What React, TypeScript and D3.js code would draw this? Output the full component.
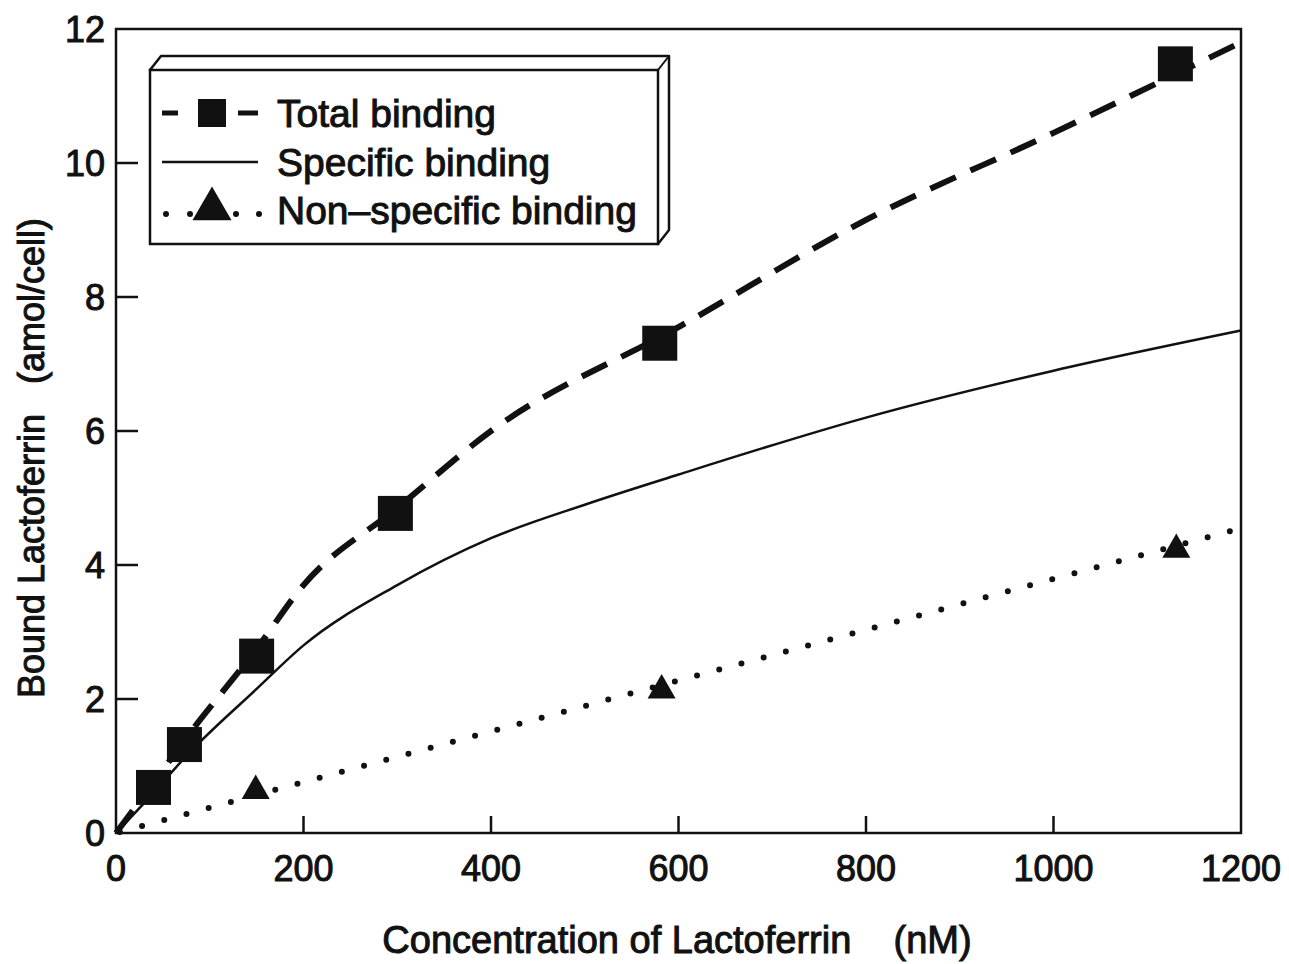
import * as d3 from 'd3';
import { useEffect, useRef } from 'react';

// measured points
const totalX = [40, 73, 150, 298, 580, 1130];
const totalY = [0.68, 1.32, 2.64, 4.77, 7.31, 11.48];
const nonSpecX = [149, 582, 1131];
const nonSpecY = [0.6, 2.1, 4.2];

// fitted curves
const totalFitX = [0, 40, 75, 150, 200, 300, 400, 600, 800, 1000, 1200];
const totalFitY = [0, 0.75, 1.42, 2.75, 3.7, 4.85, 6.0, 7.55, 9.15, 10.45, 11.8];
const specFitX = [0, 40, 75, 150, 200, 300, 400, 500, 600, 800, 1000, 1200];
const specFitY = [0, 0.6, 1.15, 2.15, 2.8, 3.7, 4.4, 4.9, 5.35, 6.2, 6.9, 7.5];
const nonSpecFitX = [0, 1200];
const nonSpecFitY = [0, 4.55];

const xTicks = [0, 200, 400, 600, 800, 1000, 1200];
const yTicks = [0, 2, 4, 6, 8, 10, 12];

const legendLabels = ['Total binding', 'Specific binding', 'Non\u2013specific binding'];

function App() {
  const svgRef = useRef<SVGSVGElement>(null);

  useEffect(() => {
    const w = 1289;
    const h = 964;
    const svg = d3.select(svgRef.current);
    svg.selectAll('*').remove();
    svg.attr('width', w).attr('height', h).style('background', 'white');

    const font = "'Liberation Sans', Arial, sans-serif";
    const ink = '#111';
    const x = d3.scaleLinear().domain([0, 1200]).range([116, 1241]);
    const y = d3.scaleLinear().domain([0, 12]).range([833, 29]);

    const g = svg.append('g');

    // frame
    g.append('rect')
      .attr('x', x(0)).attr('y', y(12))
      .attr('width', x(1200) - x(0)).attr('height', y(0) - y(12))
      .attr('fill', 'none').attr('stroke', ink).attr('stroke-width', 2.5);

    // inward ticks
    g.selectAll('.xt').data(xTicks.slice(1, -1)).enter().append('line')
      .attr('x1', d => x(d)).attr('x2', d => x(d))
      .attr('y1', y(0)).attr('y2', y(0) - 17)
      .attr('stroke', ink).attr('stroke-width', 2.5);
    g.selectAll('.yt').data(yTicks.slice(1, -1)).enter().append('line')
      .attr('x1', x(0)).attr('x2', x(0) + 22)
      .attr('y1', d => y(d)).attr('y2', d => y(d))
      .attr('stroke', ink).attr('stroke-width', 2.5);

    // tick labels
    g.selectAll('.xl').data(xTicks).enter().append('text')
      .attr('x', d => x(d)).attr('y', 881)
      .attr('text-anchor', 'middle')
      .style('font', `36px ${font}`).attr('fill', ink)
      .attr('stroke', ink).attr('stroke-width', 1)
      .text(d => d);
    g.selectAll('.yl').data(yTicks).enter().append('text')
      .attr('x', 105).attr('y', d => y(d)).attr('dy', '0.36em')
      .attr('text-anchor', 'end')
      .style('font', `36px ${font}`).attr('fill', ink)
      .attr('stroke', ink).attr('stroke-width', 1)
      .text(d => d);

    // axis titles
    g.append('text')
      .attr('x', 677).attr('y', 953)
      .attr('text-anchor', 'middle')
      .style('font', `38px ${font}`).style('white-space', 'pre')
      .attr('fill', ink).attr('stroke', ink).attr('stroke-width', 1)
      .text('Concentration of Lactoferrin    (nM)');
    g.append('text')
      .attr('transform', 'translate(44,458) rotate(-90)')
      .attr('text-anchor', 'middle')
      .style('font', `36px ${font}`).style('white-space', 'pre')
      .attr('fill', ink).attr('stroke', ink).attr('stroke-width', 1)
      .text('Bound Lactoferrin   (amol/cell)');

    const line = (xs: number[], ys: number[]) =>
      d3.line<number>().x(d => x(xs[d])).y(d => y(ys[d])).curve(d3.curveMonotoneX)(xs.map((_, i) => i));

    // curves
    g.append('path').attr('d', line(specFitX, specFitY))
      .attr('fill', 'none').attr('stroke', ink).attr('stroke-width', 2.5);
    g.append('path').attr('d', line(totalFitX, totalFitY))
      .attr('fill', 'none').attr('stroke', ink).attr('stroke-width', 6)
      .attr('stroke-dasharray', '28 16');
    g.append('path').attr('d', line(nonSpecFitX, nonSpecFitY))
      .attr('fill', 'none').attr('stroke', ink).attr('stroke-width', 6)
      .attr('stroke-linecap', 'round')
      .attr('stroke-dasharray', '0 23').attr('stroke-dashoffset', -27);

    // markers
    const sq = 35;
    g.selectAll('.sq').data(totalX).enter().append('rect')
      .attr('x', d => x(d) - sq / 2).attr('y', (d, i) => y(totalY[i]) - sq / 2)
      .attr('width', sq).attr('height', sq).attr('fill', ink);
    const tri = d3.symbol().type(d3.symbolTriangle).size(340);
    g.selectAll('.tr').data(nonSpecX).enter().append('path')
      .attr('d', tri)
      .attr('transform', (d, i) => `translate(${x(d)},${y(nonSpecY[i]) - 2})`)
      .attr('fill', ink);

    // legend box (3D)
    const lx = 150, ly = 70, lw = 508, lh = 174, dp = 11;
    const lg = g.append('g');
    lg.append('path')
      .attr('d', `M${lx},${ly} L${lx + dp},${ly - dp - 3} L${lx + lw + dp},${ly - dp - 3} L${lx + lw + dp},${ly + lh - dp - 3} L${lx + lw},${ly + lh} Z`)
      .attr('fill', 'white').attr('stroke', ink).attr('stroke-width', 2.5).attr('stroke-linejoin', 'round');
    lg.append('line')
      .attr('x1', lx + lw).attr('y1', ly).attr('x2', lx + lw + dp).attr('y2', ly - dp - 3)
      .attr('stroke', ink).attr('stroke-width', 2);
    lg.append('rect')
      .attr('x', lx).attr('y', ly).attr('width', lw).attr('height', lh)
      .attr('fill', 'white').attr('stroke', ink).attr('stroke-width', 2.5);

    const rows = [113, 162, 210];
    // total row
    lg.append('line').attr('x1', 162).attr('x2', 258).attr('y1', rows[0]).attr('y2', rows[0])
      .attr('stroke', ink).attr('stroke-width', 5).attr('stroke-dasharray', '16 20 20 20 20');
    lg.append('rect').attr('x', 198).attr('y', rows[0] - 14).attr('width', 28).attr('height', 28).attr('fill', ink);
    // specific row
    lg.append('line').attr('x1', 162).attr('x2', 258).attr('y1', rows[1]).attr('y2', rows[1])
      .attr('stroke', ink).attr('stroke-width', 2.5);
    // non-specific row
    lg.selectAll('.ld').data([166, 190, 236, 259]).enter().append('circle')
      .attr('cx', d => d).attr('cy', rows[2] + 4).attr('r', 3).attr('fill', ink);
    lg.append('path').attr('d', d3.symbol().type(d3.symbolTriangle).size(660))
      .attr('transform', `translate(212,${rows[2] - 1})`).attr('fill', ink);

    lg.selectAll('.lt').data(legendLabels).enter().append('text')
      .attr('x', 277).attr('y', (d, i) => rows[i]).attr('dy', '0.36em')
      .style('font', `39px ${font}`).attr('fill', ink)
      .attr('stroke', ink).attr('stroke-width', 1)
      .text(d => d);
  });

  return (
    <div style={{ position: 'absolute', left: 0, top: 0 }}>
      <svg ref={svgRef} style={{ display: 'block' }}></svg>
    </div>
  );
}

export default App;
